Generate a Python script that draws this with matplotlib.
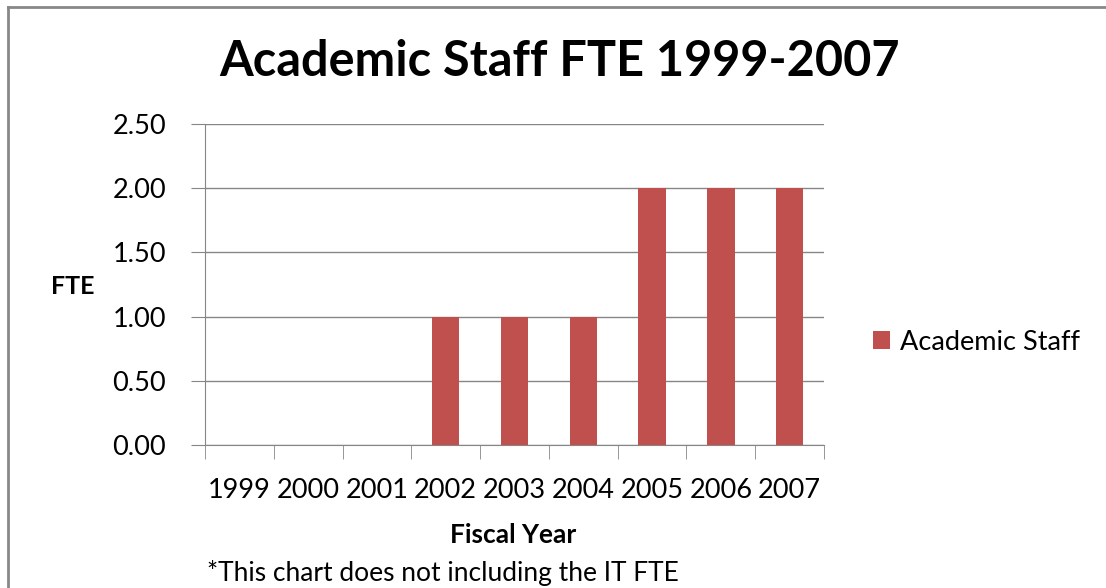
import matplotlib.pyplot as plt
from matplotlib.lines import Line2D
import numpy as np

plt.rcParams['font.family'] = ['Lato', 'DejaVu Sans']

years = ["1999", "2000", "2001", "2002", "2003", "2004", "2005", "2006", "2007"]
fte = [0, 0, 0, 1.0, 1.0, 1.0, 2.0, 2.0, 2.0]
yticks = [0.0, 0.5, 1.0, 1.5, 2.0, 2.5]

W, H = 1106, 588
fig = plt.figure(figsize=(W / 100, H / 100), dpi=100)
ax = fig.add_axes([205 / W, 1 - 445 / H, (824 - 205) / W, (445 - 124) / H])

x = np.arange(len(years))
ax.bar(x, fte, width=0.4, color="#C0504D", label="Academic Staff", zorder=3)

ax.set_xlim(-0.5, len(years) - 0.5)
ax.set_ylim(0, 2.5)
ax.set_yticks(yticks)
ax.set_yticklabels([f"{v:.2f}" for v in yticks])
ax.yaxis.grid(True, color="#868686", linewidth=1)
ax.set_axisbelow(True)

ax.set_xticks(x)
ax.set_xticklabels(years)
ax.set_xticks(np.arange(-0.5, len(years)), minor=True)
ax.tick_params(axis="x", which="major", length=0, pad=24, labelsize=19.5)
ax.tick_params(axis="x", which="minor", length=10, color="#868686", direction="out")
ax.tick_params(axis="y", length=10, color="#868686", pad=18, labelsize=19.5)

for s in ["top", "right"]:
    ax.spines[s].set_visible(False)
for s in ["left", "bottom"]:
    ax.spines[s].set_color("#868686")

fig.text(0.5 * (220 + 900) / W, 1 - 62 / H, "Academic Staff FTE 1999-2007",
         ha="center", va="center", fontsize=35, fontweight="bold")
fig.text(73 / W, 1 - 287 / H, "FTE", ha="center", va="center",
         fontsize=18, fontweight="bold")
fig.text(513 / W, 1 - 535 / H, "Fiscal Year", ha="center", va="center",
         fontsize=19, fontweight="bold")
# footnote sits at the very bottom edge of the chart
fig.text(207 / W, 2 / H, "*This chart does not including the IT FTE",
         ha="left", va="bottom", fontsize=19)

ax.legend(loc="center left", bbox_to_anchor=(849 / W, 1 - 342 / H),
          bbox_transform=fig.transFigure, frameon=False, fontsize=19.5,
          handlelength=0.6, handleheight=0.6, handletextpad=0.4)

# outer chart border (right and bottom edges lie outside the image)
fig.add_artist(Line2D([8 / W, 8 / W], [0, 1 - 7 / H], color="#888888", linewidth=2,
                      transform=fig.transFigure))
fig.add_artist(Line2D([8 / W, 1], [1 - 7 / H, 1 - 7 / H], color="#888888", linewidth=2,
                      transform=fig.transFigure))

fig.savefig("out.png", dpi=100)
